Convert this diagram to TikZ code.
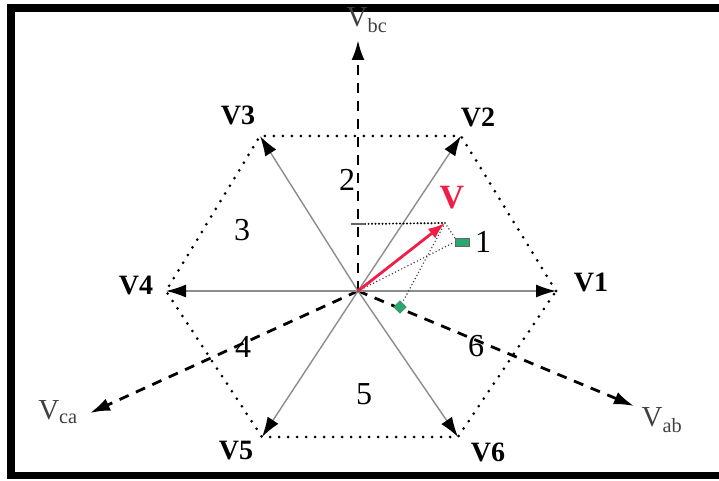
\documentclass[tikz,border=0pt]{standalone}
\usepackage{fontspec}
\setmainfont{Liberation Serif}
\usetikzlibrary{arrows.meta}

\definecolor{vecred}{RGB}{240,30,70}
\definecolor{markgreen}{RGB}{40,170,110}

\tikzset{
  basevec/.style={draw=gray!90, line width=1.4pt, -{Latex[length=20pt,width=13pt,color=black]}},
  axisvec/.style={draw=black, line width=2.8pt, dash pattern=on 10pt off 8pt, -{Latex[length=20pt,width=13pt]}},
  hexline/.style={draw=black, line width=3pt, line cap=round, dash pattern=on 0pt off 9pt},
  projline/.style={draw=black!75, line width=1.6pt, line cap=round, dash pattern=on 0pt off 3.5pt},
  veclabel/.style={font=\bfseries\fontsize{28}{28}\selectfont},
  axislabel/.style={text=black!75, font=\fontsize{29}{29}\selectfont},
  sectorlabel/.style={font=\fontsize{32}{32}\selectfont}
}

\begin{document}
\begin{tikzpicture}[x=1pt,y=-1pt]
\useasboundingbox (0,0) rectangle (719,481);

%frame
\fill (7,4) rectangle (719,12);
\fill (7,4) rectangle (15,479);
\fill (7,472) rectangle (719,479);

\coordinate (o) at (358,291);
\coordinate (v1) at (556,291);
\coordinate (v2) at (461,136);
\coordinate (v3) at (260,136);
\coordinate (v4) at (166,291);
\coordinate (v5) at (262,437);
\coordinate (v6) at (458,437);
\coordinate (vbc) at (358,40);
\coordinate (vab) at (634,406);
\coordinate (vca) at (90,413);

%hexagon
\draw[hexline] (v1)--(v2)--(v3)--(v4)--(v5)--(v6)--cycle;

%line-to-line axes
\draw[axisvec] (o)--(vbc);
\draw[axisvec] (o)--(vab);
\draw[axisvec] (o)--(vca);

%basic vectors
\foreach \v in {v1,v2,v3,v4,v5,v6}
  \draw[basevec] (o)--(\v);

%reference vector and projections
\coordinate (vt) at (445,223);
\coordinate (pbc) at (358,224);
\node[fill=markgreen, draw=black!60, minimum width=14pt, minimum height=8pt, inner sep=0pt] (pa) at (462,242) {};
\node[fill=markgreen, draw=black!60, rotate=45, minimum size=9pt, inner sep=0pt] (pab) at (400,307) {};
\draw[projline, draw=black, line width=2.2pt] (pbc)--(vt);
\draw[projline] (o)--(pa.west);
\draw[projline] (vt)--(pa.north west);
\draw[projline] (vt)--(pab);
\draw[black!60, line width=1.8pt] (351,224)--(365,224);
\draw[vecred, line width=2.8pt, -{Latex[length=17pt,width=12pt]}] (o)--(vt);
\node[text=vecred, font=\bfseries\fontsize{34}{34}\selectfont] (vlab) at (452,198) {V};

%labels
\node[veclabel] (l1) at (591,282) {V1};
\node[veclabel] (l2) at (478,117) {V2};
\node[veclabel] (l3) at (238,115) {V3};
\node[veclabel] (l4) at (136,285) {V4};
\node[veclabel] (l5) at (236,451) {V5};
\node[veclabel] (l6) at (488,452) {V6};
\node[axislabel] (lbc) at (367,20) {V\textsubscript{bc}};
\node[axislabel] (lab) at (662,420) {V\textsubscript{ab}};
\node[axislabel] (lca) at (58,412) {V\textsubscript{ca}};

%sectors
\node[sectorlabel] (s1) at (483,242) {1};
\node[sectorlabel] (s2) at (347,180) {2};
\node[sectorlabel] (s3) at (242,230) {3};
\node[sectorlabel] (s4) at (243,347) {4};
\node[sectorlabel] (s5) at (364,394) {5};
\node[sectorlabel] (s6) at (476,346) {6};
\end{tikzpicture}
\end{document}
